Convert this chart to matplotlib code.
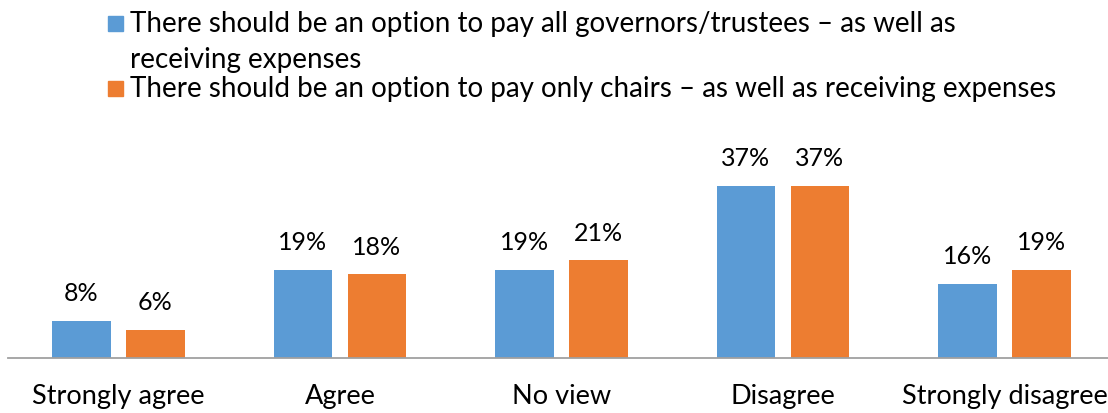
import matplotlib
matplotlib.use("Agg")
import matplotlib.pyplot as plt
from matplotlib.patches import Rectangle
import numpy as np

categories = ["Strongly agree", "Agree", "No view", "Disagree", "Strongly disagree"]
all_governors = [8, 19, 19, 37, 16]
only_chairs = [6, 18, 21, 37, 19]
series_labels = [
    "There should be an option to pay all governors/trustees \u2013 as well as\nreceiving expenses",
    "There should be an option to pay only chairs \u2013 as well as receiving expenses",
]
colors = ["#5B9BD5", "#ED7D31"]

plt.rcParams["font.family"] = ["Lato", "DejaVu Sans"]

W, H = 1108, 414
fig = plt.figure(figsize=(W / 100, H / 100), dpi=100)

# axes in pixel terms: baseline at y=359, 1% = 4.65 px, categories 221.5 px apart
left_px, right_px = 7.75, 7.75 + 5 * 221.5
base_px = 359
ymax = 40
top_px = base_px - ymax * 4.65
ax = fig.add_axes([left_px / W, 1 - base_px / H, (right_px - left_px) / W, (base_px - top_px) / H])
ax.set_xlim(-0.5, len(categories) - 0.5)
ax.set_ylim(0, ymax)

x = np.arange(len(categories))
bw = 0.266
off = 0.167
for vals, c, dx in [(all_governors, colors[0], -off), (only_chairs, colors[1], off)]:
    bars = ax.bar(x + dx, vals, width=bw, color=c, zorder=2)
    for b, v in zip(bars, vals):
        ax.annotate(f"{v}%", (b.get_x() + b.get_width() / 2, v), xytext=(0, 12),
                    textcoords="offset points", ha="center", va="bottom",
                    fontsize=18, color="#000000")

for s in ["top", "left", "right"]:
    ax.spines[s].set_visible(False)
ax.spines["bottom"].set_color("#a0a0a0")
ax.spines["bottom"].set_linewidth(1.3)
ax.set_yticks([])
ax.set_xticks(x)
ax.set_xticklabels(categories, fontsize=19.5)
ax.tick_params(axis="x", length=0, pad=18)

# legend drawn in figure pixel coordinates
def fx(px):
    return px / W

def fy(py):
    return 1 - py / H

box_tops = [17, 82]
baselines = [[32, 68], [97]]
for lab, c, bt, bls in zip(series_labels, colors, box_tops, baselines):
    fig.patches.append(Rectangle((fx(108), fy(bt + 15)), 15 / W, 15 / H, color=c,
                                 transform=fig.transFigure, figure=fig))
    for line, bl in zip(lab.split("\n"), bls):
        fig.text(fx(130), fy(bl), line, fontsize=20, va="baseline", ha="left",
                 color="#000000")

fig.savefig("out.png", dpi=100)
